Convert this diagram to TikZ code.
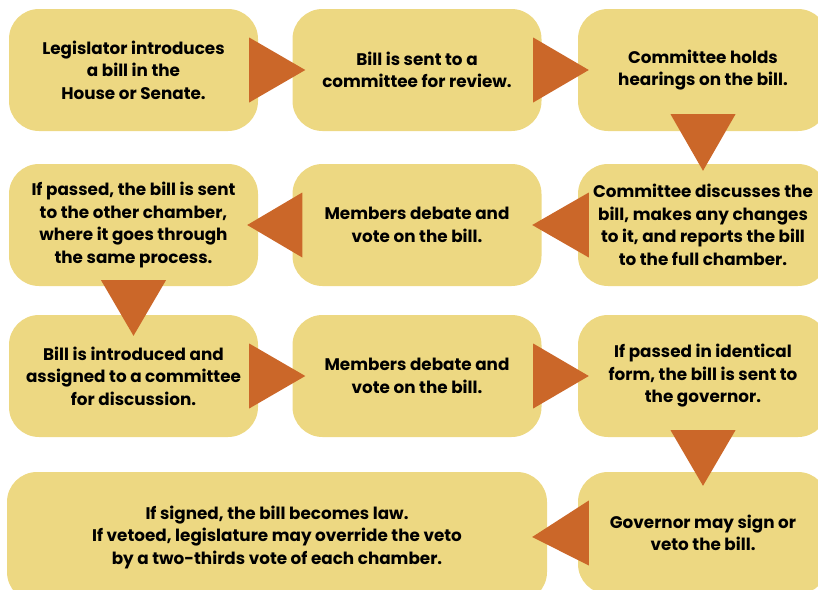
\documentclass[tikz,border=0pt]{standalone}
\usepackage{fontspec}
\setmainfont{Poppins}
\usetikzlibrary{calc}
\definecolor{sandy}{RGB}{237,216,130}
\definecolor{rust}{RGB}{203,103,41}

\begin{document}
\begin{tikzpicture}[x=1pt,y=-1pt,line join=round,
    stepbox/.style={fill=sandy,rounded corners=30pt,minimum width=249pt,minimum height=122pt,
      inner sep=0pt,align=center,font=\fontsize{16.8}{22.5}\selectfont\bfseries},
    tri/.style={fill=rust}]
    \useasboundingbox (0,0) rectangle (818,589);
    \clip (0,0) rectangle (818,589);
    % first row
    \node[stepbox] (b1) at (133.5,70) {Legislator introduces\\a bill in the\\House or Senate.};
    \node[stepbox] (b2) at (417,70) {Bill is sent to a\\committee for review.};
    \node[stepbox,minimum width=250pt] (b3) at (703,70) {Committee holds\\hearings on the bill.};
    % second row
    \node[stepbox] (b4) at (133.5,225) {If passed, the bill is sent\\to the other chamber,\\where it goes through\\the same process.};
    \node[stepbox] (b5) at (417,225) {Members debate and\\vote on the bill.};
    \node[stepbox,minimum width=250pt] (b6) at (703,225) {Committee discusses the\\bill, makes any changes\\to it, and reports the bill\\to the full chamber.};
    % third row
    \node[stepbox] (b7) at (133.5,376) {Bill is introduced and\\assigned to a committee\\for discussion.};
    \node[stepbox] (b8) at (417,376) {Members debate and\\vote on the bill.};
    \node[stepbox,minimum width=250pt] (b9) at (703,376) {If passed in identical\\form, the bill is sent to\\the governor.};
    % last row
    \node[stepbox,minimum width=250pt] (gov) at (703,533) {Governor may sign or\\veto the bill.};
    \node[stepbox,minimum width=540pt,minimum height=130pt] (law) at (277,537) {If signed, the bill becomes law.\\If vetoed, legislature may override the veto\\by a two-thirds vote of each chamber.};
    % triangles
    \fill[tri] ($(b1.east)+(-9,-32.5)$) -- ($(b2.west)+(13,0)$) -- ($(b1.east)+(-9,32.5)$) -- cycle;
    \fill[tri] ($(b2.east)+(-8.5,-32.5)$) -- ($(b3.west)+(11,0)$) -- ($(b2.east)+(-8.5,32.5)$) -- cycle;
    \fill[tri] ($(b3.south)+(-32.5,-17)$) -- ($(b6.north)+(0,7)$) -- ($(b3.south)+(32.5,-17)$) -- cycle;
    \fill[tri] ($(b6.west)+(11,-32.5)$) -- ($(b5.east)+(-9.5,0)$) -- ($(b6.west)+(11,32.5)$) -- cycle;
    \fill[tri] ($(b5.west)+(10,-32.5)$) -- ($(b4.east)+(-11,0)$) -- ($(b5.west)+(10,32.5)$) -- cycle;
    \fill[tri] ($(b4.south)+(-32.5,-6)$) -- ($(b7.north)+(0,21)$) -- ($(b4.south)+(32.5,-6)$) -- cycle;
    \fill[tri] ($(b7.east)+(-9,-32.5)$) -- ($(b8.west)+(13,0)$) -- ($(b7.east)+(-9,32.5)$) -- cycle;
    \fill[tri] ($(b8.east)+(-8.5,-32.5)$) -- ($(b9.west)+(11,0)$) -- ($(b8.east)+(-8.5,32.5)$) -- cycle;
    \fill[tri] ($(b9.south)+(-32.5,-7)$) -- ($(gov.north)+(0,14)$) -- ($(b9.south)+(32.5,-7)$) -- cycle;
    \fill[tri] ($(gov.west)+(11,-32.5)$) -- ($(law.east)+(-15,0)$) -- ($(gov.west)+(11,32.5)$) -- cycle;
\end{tikzpicture}
\end{document}
